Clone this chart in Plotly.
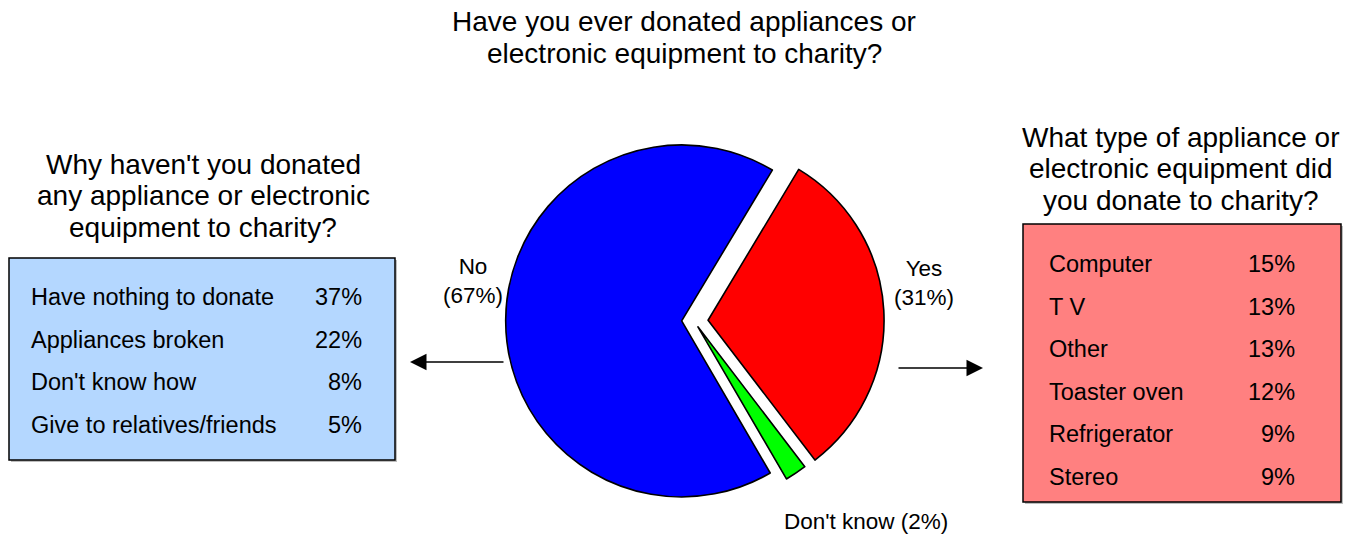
import plotly.graph_objects as go

# ---- data ----
pie_labels = ["Yes", "Don't know", "No"]
pie_values = [31, 2, 67]
pie_colors = ["#FF0000", "#00FF00", "#0000FF"]
pie_pull = [0.08, 0.04, 0.07]

why_not_items = ["Have nothing to donate", "Appliances broken", "Don't know how",
                 "Give to relatives/friends"]
why_not_values = [37, 22, 8, 5]

donated_items = ["Computer", "T V", "Other", "Toaster oven", "Refrigerator", "Stereo"]
donated_values = [15, 13, 13, 12, 9, 9]

main_title = ["Have you ever donated appliances or", "electronic equipment to charity?"]
left_title = ["Why haven't you donated", "any appliance or electronic", "equipment to charity?"]
right_title = ["What type of appliance or", "electronic equipment did", "you donate to charity?"]

# ---- layout helpers (pixel -> paper) ----
W, H = 1354, 537
FONT = "Liberation Sans, Arial, sans-serif"


def px(x):
    return x / W


def py(y):
    return 1 - y / H


# pie placement
cx, cy, r = 694, 321, 176
side = r * (2 + 2 * max(pie_pull))
dom_x = [px(cx - side / 2), px(cx + side / 2)]
dom_y = [py(cy + side / 2), py(cy - side / 2)]

fig = go.Figure()
fig.add_trace(go.Pie(
    labels=pie_labels,
    values=pie_values,
    sort=False,
    direction="clockwise",
    rotation=31,
    pull=pie_pull,
    marker=dict(colors=pie_colors, line=dict(color="black", width=1.6)),
    textinfo="none",
    hoverinfo="label+percent",
    showlegend=False,
    domain=dict(x=dom_x, y=dom_y),
))

annotations = []
shapes = []


def text(x, y, s, size, xanchor="center", color="black"):
    annotations.append(dict(
        x=px(x), y=py(y), xref="paper", yref="paper", text=s, showarrow=False,
        xanchor=xanchor, yanchor="middle", align=xanchor if xanchor != "center" else "center",
        borderpad=0,
        font=dict(family=FONT, size=size, color=color),
    ))


# titles, one annotation per line
for i, line in enumerate(main_title):
    text(684, 22 + 31 * i, line, 28)
for i, line in enumerate(left_title):
    text(203, 164 + 31.5 * i, line, 28)
for i, line in enumerate(right_title):
    text(1181, 137 + 31.5 * i, line, 28)

# slice labels
text(473, 281, f"{pie_labels[2]}<br>({pie_values[2]}%)", 22.5)
text(924, 283, f"{pie_labels[0]}<br>({pie_values[0]}%)", 22.5)
text(866, 521, f"{pie_labels[1]} ({pie_values[1]}%)", 22.5)


# boxes with a faint drop shadow
def box(x0, y0, x1, y1, fill):
    shapes.append(dict(type="rect", xref="paper", yref="paper",
                       x0=px(x0 + 2), x1=px(x1 + 2), y0=py(y1 + 2), y1=py(y0 + 2),
                       fillcolor="#BDBDBD", line=dict(width=0), layer="below"))
    shapes.append(dict(type="rect", xref="paper", yref="paper",
                       x0=px(x0), x1=px(x1), y0=py(y1), y1=py(y0),
                       fillcolor=fill, line=dict(color="black", width=1.5), layer="below"))


box(9, 258, 395, 460, "#B4D7FF")
box(1023, 224, 1341, 502, "#FF8080")

# left list
for i, (item, val) in enumerate(zip(why_not_items, why_not_values)):
    y = 297 + 42.7 * i
    text(30, y, item, 23.5, xanchor="left")
    text(363, y, f"{val}%", 23.5, xanchor="right")

# right list
for i, (item, val) in enumerate(zip(donated_items, donated_values)):
    y = 264 + 42.6 * i
    text(1048, y, item, 23.5, xanchor="left")
    text(1296, y, f"{val}%", 23.5, xanchor="right")

# arrows pointing from the pie to the follow-up questions
for tip_x, tail_x, y in [(410, 505, 362), (983, 897, 368)]:
    annotations.append(dict(
        x=px(tip_x), y=py(y), xref="paper", yref="paper",
        ax=tail_x - tip_x, ay=0, text="", showarrow=True,
        arrowhead=2, arrowsize=2.2, arrowwidth=1.5, arrowcolor="black",
    ))

fig.update_layout(
    width=W, height=H,
    margin=dict(l=0, r=0, t=0, b=0),
    paper_bgcolor="white", plot_bgcolor="white",
    annotations=annotations, shapes=shapes,
)

fig.write_html("out.html")
